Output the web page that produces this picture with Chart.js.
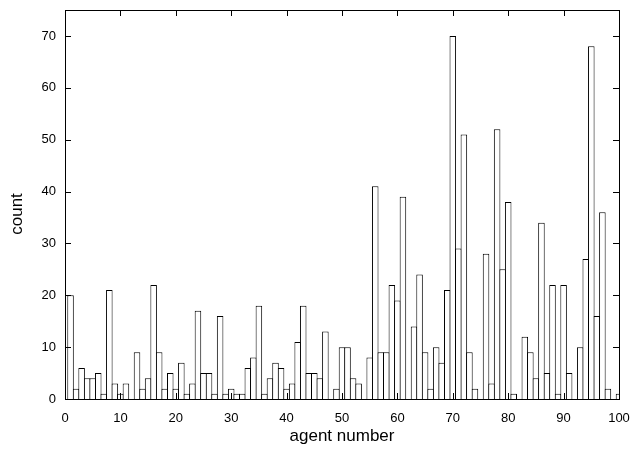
<!DOCTYPE html>
<html>
<head>
<meta charset="utf-8">
<script src="https://cdn.jsdelivr.net/npm/chart.js@4.4.1/dist/chart.umd.min.js"></script>
<style>
  html, body { margin: 0; padding: 0; background: #fff; }
  #wrap { width: 636px; height: 451px; }
</style>
</head>
<body>
<div id="wrap"><canvas id="chart"></canvas></div>
<script>
const agents = Array.from({ length: 100 }, (_, i) => i + 1);
const counts = [
  20, 2, 6, 4, 4, 5, 1, 21, 3, 1,
  3, 0, 9, 2, 4, 22, 9, 2, 5, 2,
  7, 1, 3, 17, 5, 5, 1, 16, 1, 2,
  1, 1, 6, 8, 18, 1, 4, 7, 6, 2,
  3, 11, 18, 5, 5, 4, 13, 0, 2, 10,
  10, 4, 3, 0, 8, 41, 9, 9, 22, 19,
  39, 0, 14, 24, 9, 2, 10, 7, 21, 70,
  29, 51, 9, 2, 0, 28, 3, 52, 25, 38,
  1, 0, 12, 9, 4, 34, 5, 22, 1, 22,
  5, 0, 10, 27, 68, 16, 36, 2, 0, 1
];
const xTicks = [0, 10, 20, 30, 40, 50, 60, 70, 80, 90, 100];
const yTicks = [0, 10, 20, 30, 40, 50, 60, 70];

const FONT = 'Liberation Sans, Arial, Helvetica, sans-serif';
const TICK_LEN = 6;

// gnuplot style frame with inward ticks on all four sides
const framePlugin = {
  id: 'frame',
  afterDatasetsDraw(chart) {
    const { ctx, chartArea: a, scales } = chart;
    ctx.save();
    ctx.strokeStyle = '#000';
    ctx.lineWidth = 1;
    ctx.beginPath();
    xTicks.forEach((v) => {
      const x = Math.round(scales.x.getPixelForValue(v)) + 0.5;
      ctx.moveTo(x, a.bottom);
      ctx.lineTo(x, a.bottom - TICK_LEN);
      ctx.moveTo(x, a.top);
      ctx.lineTo(x, a.top + TICK_LEN);
    });
    yTicks.forEach((v) => {
      const y = Math.round(scales.y.getPixelForValue(v)) + 0.5;
      ctx.moveTo(a.left, y);
      ctx.lineTo(a.left + TICK_LEN, y);
      ctx.moveTo(a.right, y);
      ctx.lineTo(a.right - TICK_LEN, y);
    });
    ctx.stroke();
    ctx.strokeRect(Math.round(a.left) + 0.5, Math.round(a.top) + 0.5,
      Math.round(a.right - a.left), Math.round(a.bottom - a.top));
    ctx.restore();
  }
};

const noPad = (s) => {
  s.paddingTop = 0;
  s.paddingBottom = 0;
  s.paddingLeft = 0;
  s.paddingRight = 0;
};

new Chart(document.getElementById('chart'), {
  type: 'bar',
  data: {
    datasets: [{
      data: agents.map((a, i) => ({ x: a, y: counts[i] })),
      backgroundColor: '#fff',
      borderColor: '#000',
      borderWidth: { top: 1, left: 1, right: 1, bottom: 0 },
      // boxes overlap by one border so neighbours share a single line
      barPercentage: 1.18,
      categoryPercentage: 1,
      inflateAmount: 0,
      clip: 0
    }]
  },
  options: {
    responsive: true,
    maintainAspectRatio: false,
    animation: false,
    layout: { padding: { left: 0, right: 17, top: 10, bottom: 0 } },
    plugins: { legend: { display: false }, tooltip: { enabled: false } },
    scales: {
      x: {
        type: 'linear',
        min: 0,
        max: 100,
        offset: false,
        grid: { display: false },
        border: { display: false },
        afterBuildTicks: (s) => { s.ticks = xTicks.map((v) => ({ value: v })); },
        afterFit: (s) => { s.height = 52; noPad(s); },
        ticks: { color: '#000', padding: 4, maxRotation: 0, font: { family: FONT, size: 13 } },
        title: {
          display: true, text: 'agent number', color: '#000',
          font: { family: FONT, size: 17 }, padding: { top: 0, bottom: 4 }
        }
      },
      y: {
        min: 0,
        max: 75,
        grid: { display: false },
        border: { display: false },
        afterBuildTicks: (s) => { s.ticks = yTicks.map((v) => ({ value: v })); },
        afterFit: (s) => { s.width = 65; noPad(s); },
        ticks: { color: '#000', padding: 1, font: { family: FONT, size: 13 } },
        title: {
          // trailing spaces nudge the label a little below the axis middle
          display: true, text: 'count    ', color: '#000',
          font: { family: FONT, size: 17 }, padding: { top: 7, bottom: 0 }
        }
      }
    }
  },
  plugins: [framePlugin]
});
</script>
</body>
</html>
